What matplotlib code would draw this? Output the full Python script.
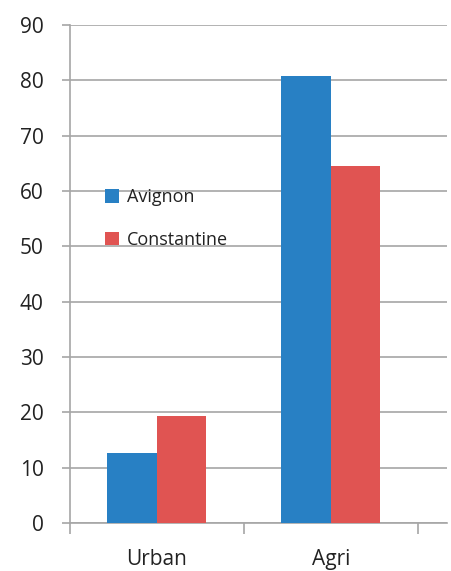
import numpy as np
import matplotlib
matplotlib.use("Agg")
import matplotlib.pyplot as plt

plt.rcParams['font.family'] = ['Open Sans', 'DejaVu Sans']

categories = ["Urban", "Agri"]
series_names = ["Avignon", "Constantine"]
avignon = [12.6, 80.8]
constantine = [19.3, 64.5]

colors = ["#2880C4", "#E05452"]
grid_color = "#A6A6A6"
text_color = "#222222"

fig = plt.figure(figsize=(4.51, 5.71), dpi=100)
ax = fig.add_axes([0.155, 0.084, 0.836, 0.872])

x = np.arange(len(categories))
width = 0.285

ax.bar(x - width / 2, avignon, width=width, color=colors[0],
       label=series_names[0], zorder=3, linewidth=0)
ax.bar(x + width / 2, constantine, width=width, color=colors[1],
       label=series_names[1], zorder=3, linewidth=0)

ax.set_ylim(0, 90)
ax.set_xlim(-0.5, 1.667)
ax.set_yticks(np.arange(0, 91, 10))
ax.yaxis.grid(True, color=grid_color, linewidth=1.2, zorder=0)
ax.set_axisbelow(True)

# category labels in the middle, tick marks on the boundaries
ax.set_xticks(x)
ax.set_xticklabels(categories)
ax.set_xticks([-0.5, 0.5, 1.5], minor=True)
ax.tick_params(axis="x", which="major", length=0, pad=19,
               labelsize=15, labelcolor=text_color)
ax.tick_params(axis="x", which="minor", length=8, width=1.2,
               color=grid_color, direction="out")
ax.tick_params(axis="y", length=6, width=1.2, color=grid_color,
               labelsize=15, labelcolor=text_color, pad=13)

for side in ["top", "right"]:
    ax.spines[side].set_visible(False)
for side in ["left", "bottom"]:
    ax.spines[side].set_color(grid_color)
    ax.spines[side].set_linewidth(1.2)

leg = ax.legend(loc="upper left", bbox_to_anchor=(0.075, 0.687),
                frameon=False, handlelength=0.75,
                handleheight=0.75, handletextpad=0.45, labelspacing=1.35,
                borderaxespad=0, prop={"size": 13})
for t in leg.get_texts():
    t.set_color(text_color)

fig.savefig("out.png", dpi=100)
